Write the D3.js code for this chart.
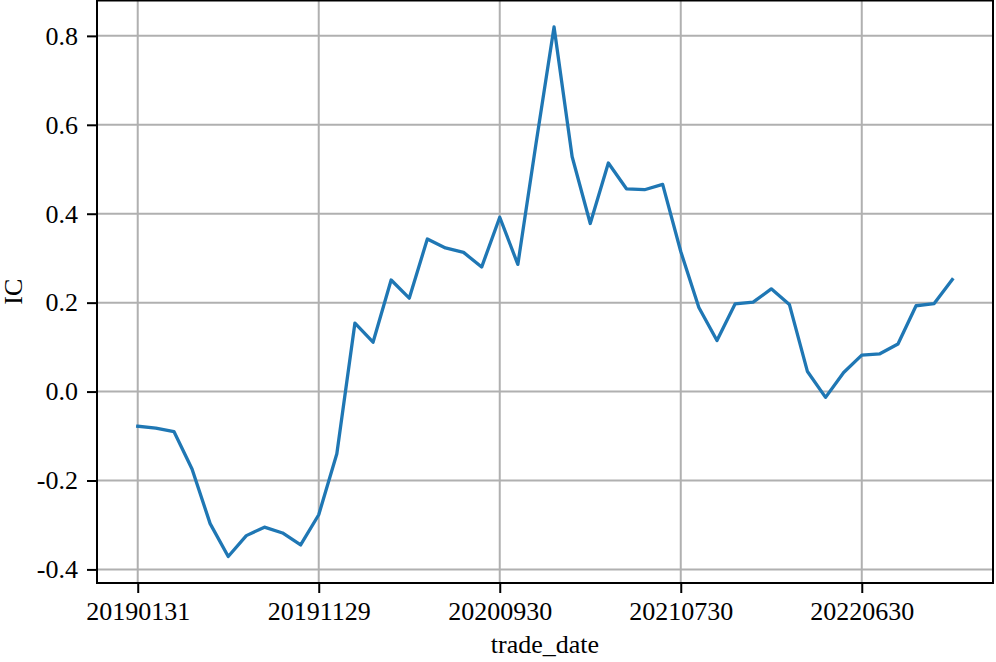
<!DOCTYPE html>
<html>
<head>
<meta charset="utf-8">
<script src="https://cdn.jsdelivr.net/npm/d3@7"></script>
<style>
  html, body { margin: 0; padding: 0; background: #fff; }
  svg { display: block; }
</style>
</head>
<body>
<svg id="chart" width="996" height="662"></svg>
<script>
const dates = ["20190131","20190228","20190329","20190430","20190531","20190628","20190731","20190830","20190930","20191031",
  "20191129","20191231","20200123","20200228","20200331","20200430","20200529","20200630","20200731","20200831",
  "20200930","20201030","20201130","20201231","20210129","20210226","20210331","20210430","20210531","20210630",
  "20210730","20210831","20210930","20211029","20211130","20211231","20220128","20220331","20220429","20220531",
  "20220630","20220729","20220831","20220930","20221031","20221130"];
const icValues = [-0.078,-0.082,-0.090,-0.174,-0.297,-0.371,-0.324,-0.305,-0.318,-0.345,
  -0.277,-0.140,0.154,0.111,0.251,0.210,0.343,0.323,0.313,0.280,
  0.392,0.286,0.557,0.820,0.528,0.378,0.514,0.456,0.454,0.466,
  0.315,0.189,0.115,0.197,0.201,0.231,0.196,0.045,-0.013,0.043,
  0.082,0.085,0.107,0.193,0.198,0.252];
const xTickIndex = [0,10,20,30,40];
const yTicks = [-0.4,-0.2,0.0,0.2,0.4,0.6,0.8];
const xLabel = "trade_date";
const yLabel = "IC";

const FONT = "'Liberation Serif', 'Times New Roman', serif";
const fs = 26;

const svg = d3.select("#chart");
const L = 97, R = 993, T = 0.5, B = 583;
const n = icValues.length;
const xPad = (n - 1) * 0.05;
const x = d3.scaleLinear().domain([-xPad, n - 1 + xPad]).range([L, R]);
const ymin = d3.min(icValues), ymax = d3.max(icValues), yr = ymax - ymin;
const y = d3.scaleLinear().domain([ymin - 0.05 * yr, ymax + 0.05 * yr]).range([B, T]);

// grid
const grid = svg.append("g");
grid.selectAll("line.gx").data(xTickIndex).join("line")
  .attr("x1", d => x(d)).attr("x2", d => x(d)).attr("y1", T).attr("y2", B)
  .attr("stroke", "#b0b0b0").attr("stroke-width", 2);
grid.selectAll("line.gy").data(yTicks).join("line")
  .attr("x1", L).attr("x2", R).attr("y1", d => y(d)).attr("y2", d => y(d))
  .attr("stroke", "#b0b0b0").attr("stroke-width", 2);

// line
const line = d3.line().x((d, i) => x(i)).y(d => y(d));
svg.append("path").datum(icValues).attr("d", line)
  .attr("fill", "none").attr("stroke", "#1f77b4").attr("stroke-width", 3.3)
  .attr("stroke-linejoin", "round").attr("stroke-linecap", "square");

// axes
const xAxis = d3.axisBottom(x).tickValues(xTickIndex).tickFormat(i => dates[i]).tickSize(10).tickPadding(9);
const gx = svg.append("g").attr("transform", `translate(0,${B})`).call(xAxis);
gx.attr("font-family", null);
gx.select(".domain").remove();
gx.selectAll(".tick line").attr("stroke", "#000").attr("stroke-width", 2);
gx.selectAll(".tick text").style("font-size", fs + "px").style("font-family", FONT).attr("fill", "#000");

const yAxis = d3.axisLeft(y).tickValues(yTicks).tickFormat(d => d3.format(".1f")(d).replace("\u2212", "-")).tickSize(10).tickPadding(9);
const gy = svg.append("g").attr("transform", `translate(${L},0)`).call(yAxis);
gy.attr("font-family", null);
gy.select(".domain").remove();
gy.selectAll(".tick line").attr("stroke", "#000").attr("stroke-width", 2);
gy.selectAll(".tick text").style("font-size", fs + "px").style("font-family", FONT).attr("fill", "#000");

// frame
svg.append("rect").attr("x", L).attr("y", T).attr("width", R - L).attr("height", B - T)
  .attr("fill", "none").attr("stroke", "#000").attr("stroke-width", 2);

// labels
svg.append("text").attr("x", 545).attr("y", 653).attr("text-anchor", "middle")
  .style("font-size", fs + "px").style("font-family", FONT).text(xLabel);
svg.append("text").attr("transform", `translate(22,${(T + B) / 2}) rotate(-90)`)
  .attr("text-anchor", "middle").style("font-size", fs + "px").style("font-family", FONT).text(yLabel);
</script>
</body>
</html>
